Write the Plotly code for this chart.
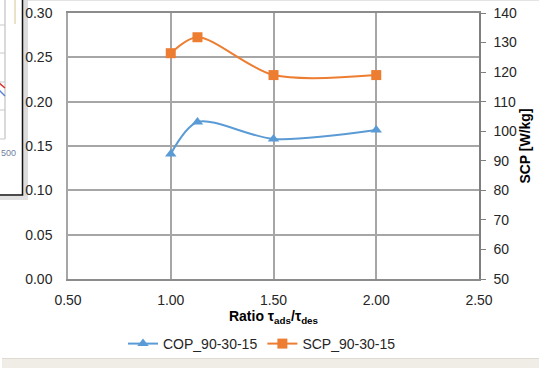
import plotly.graph_objects as go

# ---- data ----
ratio_cop = [1.00, 1.13, 1.50, 2.00]
cop = [0.141, 0.177, 0.158, 0.168]
ratio_scp = [1.00, 1.13, 1.50, 2.00]
scp = [126.4, 131.8, 119.0, 119.0]
left_ticks = [0.00, 0.05, 0.10, 0.15, 0.20, 0.25, 0.30]
right_ticks = [50, 60, 70, 80, 90, 100, 110, 120, 130, 140]
x_ticks = [0.5, 1.0, 1.5, 2.0, 2.5]

W, H = 539, 368
L, R, T, B = 68, 479, 13, 279
def px(x):
    return (x - L) / (R - L)
def py(y):
    return (B - y) / (B - T)

BLUE = "#5B9BD5"
ORANGE = "#ED7D31"
GRID = "#a6a6a6"
FONT = "Liberation Sans, Arial, sans-serif"

fig = go.Figure()
fig.add_trace(go.Scatter(
    x=ratio_cop, y=cop, name="COP_90-30-15", mode="lines+markers",
    line=dict(color=BLUE, width=2, shape="spline", smoothing=0.85),
    marker=dict(symbol="triangle-up", size=10, color=BLUE),
))
fig.add_trace(go.Scatter(
    x=ratio_scp, y=scp, name="SCP_90-30-15", mode="lines+markers", yaxis="y2",
    line=dict(color=ORANGE, width=2, shape="spline", smoothing=0.85),
    marker=dict(symbol="square", size=10, color=ORANGE),
))

shapes = [
    # bottom beige strip
    dict(type="rect", xref="paper", yref="paper", x0=px(2), x1=px(540), y0=py(358), y1=py(369),
         fillcolor="#efede6", line=dict(width=0), layer="below"),
    dict(type="line", xref="paper", yref="paper", x0=px(2), x1=px(540), y0=py(358.5), y1=py(358.5),
         line=dict(color="#dddbd2", width=1), layer="below"),
    # top light line
    dict(type="line", xref="paper", yref="paper", x0=px(24), x1=px(540), y0=py(0.5), y1=py(0.5),
         line=dict(color="#e4e4e4", width=1), layer="below"),
    # overlapped neighbour chart at the left
    dict(type="rect", xref="paper", yref="paper", x0=px(23), x1=px(28), y0=py(0), y1=py(199),
         fillcolor="#dcdcdc", line=dict(width=0), layer="below"),
    dict(type="rect", xref="paper", yref="paper", x0=px(-2), x1=px(28), y0=py(196), y1=py(200),
         fillcolor="#e2e2e2", line=dict(width=0), layer="below"),
    dict(type="rect", xref="paper", yref="paper", x0=px(-2), x1=px(22.5), y0=py(-2), y1=py(195),
         fillcolor="white", line=dict(color="#111111", width=1.5), layer="below"),
    dict(type="line", xref="paper", yref="paper", x0=px(5), x1=px(5), y0=py(0), y1=py(139),
         line=dict(color="#b5b5b5", width=1), layer="below"),
    dict(type="line", xref="paper", yref="paper", x0=px(15), x1=px(15), y0=py(0), y1=py(24),
         line=dict(color="#d8c48a", width=1), layer="below"),
]
for yy in [25, 53, 82, 110, 139]:
    shapes.append(dict(type="line", xref="paper", yref="paper", x0=px(-2), x1=px(5), y0=py(yy), y1=py(yy),
                       line=dict(color="#c8c8c8", width=1), layer="below"))
shapes.append(dict(type="line", xref="paper", yref="paper", x0=px(-2), x1=px(5), y0=py(82), y1=py(88),
                   line=dict(color="#e03030", width=1.5), layer="below"))
shapes.append(dict(type="line", xref="paper", yref="paper", x0=px(-2), x1=px(5), y0=py(89), y1=py(96),
                   line=dict(color="#5b7fd5", width=1.5), layer="below"))

fig.update_layout(
    width=W, height=H,
    margin=dict(l=L, r=W - R, t=T, b=H - B, autoexpand=False),
    paper_bgcolor="white", plot_bgcolor="white",
    font=dict(family=FONT, size=14, color="#262626"),
    showlegend=True,
    legend=dict(orientation="h", x=px(262), xanchor="center", y=py(344), yanchor="middle",
                font=dict(size=14, color="#262626"), itemwidth=30, bgcolor="rgba(0,0,0,0)"),
    xaxis=dict(range=[0.5, 2.5], tickvals=x_ticks, ticktext=[f"{v:.2f}" for v in x_ticks],
               showgrid=True, gridcolor=GRID, gridwidth=1.5, zeroline=False, automargin=False,
               showline=True, linecolor="#8c8c8c", linewidth=1.5, mirror=True,
               ticks="", ticklabelstandoff=7,
               title=dict(text="<b>Ratio τ<sub>ads</sub>/τ<sub>des</sub></b>", standoff=5,
                          font=dict(size=14, color="#000000"))),
    yaxis=dict(range=[0, 0.30], tickvals=left_ticks, ticktext=[f"{v:.2f}" for v in left_ticks],
               showgrid=True, gridcolor=GRID, gridwidth=1.5, zeroline=False, automargin=False,
               showline=True, linecolor="#a6a6a6", linewidth=1.5,
               ticks="", ticklabelstandoff=11),
    yaxis2=dict(range=[50, 140], tickvals=right_ticks, overlaying="y", side="right", automargin=False,
                showgrid=False, zeroline=False, showline=True, linecolor="#7f7f7f", linewidth=1.5,
                ticks="outside", ticklen=5, tickcolor="#7f7f7f", ticklabelstandoff=5,
                title=dict(text="<b>SCP [W/kg]</b>", standoff=3, font=dict(size=14, color="#000000"))),
    shapes=shapes,
    annotations=[dict(text="500", xref="paper", yref="paper", x=px(-1), y=py(153), xanchor="left",
                      yanchor="middle", showarrow=False, font=dict(size=9, color="#6f7fa0"))],
)

fig.write_html("out.html")
